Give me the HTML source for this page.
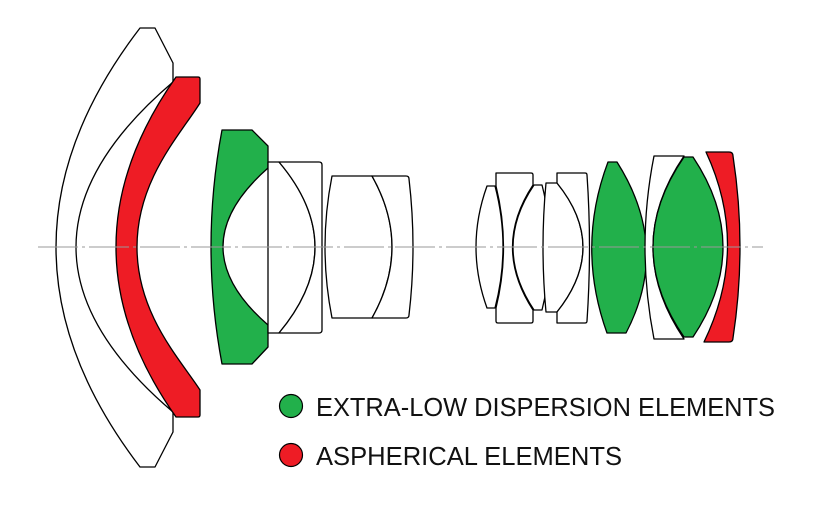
<!DOCTYPE html>
<html><head><meta charset="utf-8"><style>
html,body{margin:0;padding:0;background:#fff;}
svg{display:block;}
</style></head><body>
<svg width="820" height="516" viewBox="0 0 820 516" xmlns="http://www.w3.org/2000/svg">
<g stroke="#000" stroke-width="1.3" stroke-linejoin="round">
<path fill="#fff" d="M140,28 L155,28 L173,63 L173,82 Q-21,247 173,412 L173,432 L155,467 L140,467 Q-28,247 140,28 Z"/>
<path fill="#ee1c25" d="M176,77 L198,77 Q200,77 200,79 L200,103 C180,135 137,180 137,247 C137,314 180,359 200,390 L200,415 Q200,417 198,417 L176,417 Q56,247 176,77 Z"/>
<path fill="#22b04b" d="M222,130 L252,130 L268,146 L268,168 Q178,247 268,325 L268,347 L252,364 L222,364 Q200,247 222,130 Z"/>
<path fill="#fff" d="M268,162 L279,162 Q351,247 279,333 L268,333 Z"/>
<path fill="#fff" d="M279,162 L319,162 Q322,162 322,165 L322,330 Q322,333 319,333 L279,333 Q351,247 279,162 Z"/>
<path fill="#fff" d="M332,176 L372,176 Q412,247 372,318 L332,318 Q318,247 332,176 Z"/>
<path fill="#fff" d="M372,176 L406,176 Q409,176 409,179 Q417,247 409,315 Q409,318 406,318 L372,318 Q412,247 372,176 Z"/>
<path fill="#fff" d="M487,186 L495,186 Q511,247 495,308 L487,308 Q465,247 487,186 Z"/>
<path fill="#fff" d="M496,173 L531,173 Q533,173 533,175 L533,185 Q492,247 533,310 L533,321 Q533,323 531,323 L498,323 Q496,323 496,321 L496,308 Q511,247 496,186 Z"/>
<path fill="#fff" d="M534,185 L542,185 Q558,247 542,310 L534,310 Q492,247 534,185 Z"/>
<path fill="#fff" d="M546,183 L557,183 Q609,247 557,312 L546,312 Q540,247 546,183 Z"/>
<path fill="#fff" d="M557,173 L585,173 Q587,173 587,175 Q592,247 587,321 Q587,323 585,323 L557,323 L557,312 Q609,247 557,183 Z"/>
<path fill="#22b04b" d="M608,162 L617,162 Q671,247 626,333 L607,333 Q576,247 608,162 Z"/>
<path fill="#fff" d="M654,156 L684,156 Q622,247 684,339 L654,339 Q636,247 654,156 Z"/>
<path fill="#22b04b" d="M684,157 L693,157 Q753,247 693,337 L684,337 Q622,247 684,157 Z"/>
<path fill="#ee1c25" d="M706,152 L729,152 Q733,152 733,156 Q747,247 733,338 Q733,342 729,342 L704,342 Q750,247 706,152 Z"/>
</g>
<line x1="38" y1="247" x2="763" y2="247" stroke="#999" stroke-width="1" stroke-dasharray="40,4,3,4"/>
<circle cx="291" cy="406" r="11.5" fill="#22b04b" stroke="#000" stroke-width="1.2"/>
<circle cx="291" cy="455" r="11.5" fill="#ee1c25" stroke="#000" stroke-width="1.2"/>
<g font-family="Liberation Sans, sans-serif" font-size="26" fill="#111">
<text x="316" y="416" textLength="459" lengthAdjust="spacingAndGlyphs">EXTRA-LOW DISPERSION ELEMENTS</text>
<text x="316" y="465" textLength="306" lengthAdjust="spacingAndGlyphs">ASPHERICAL ELEMENTS</text>
</g>
</svg>
</body></html>
